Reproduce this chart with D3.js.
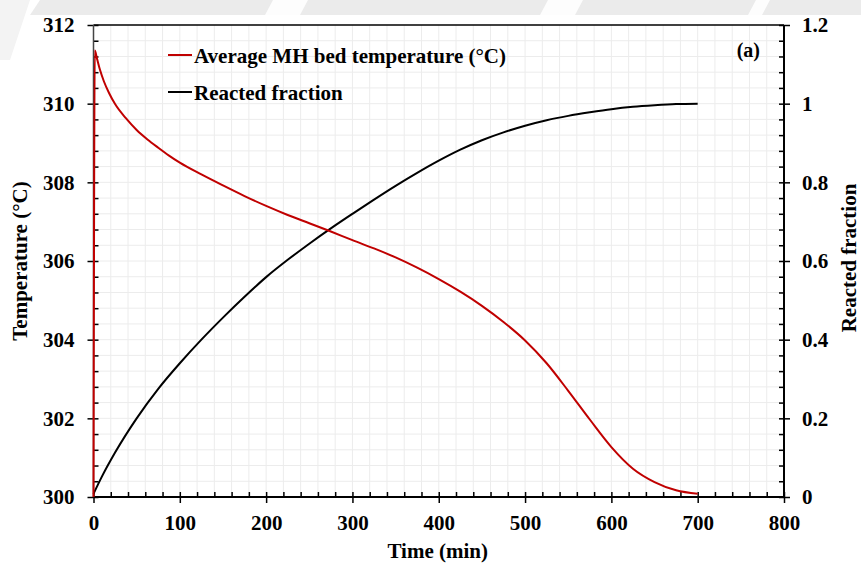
<!DOCTYPE html>
<html>
<head>
<meta charset="utf-8">
<script src="https://cdn.jsdelivr.net/npm/d3@7"></script>
<style>
  html, body { margin: 0; padding: 0; background: #fff; }
  svg { display: block; }
  text { font-family: "Liberation Serif", "Times New Roman", serif; font-weight: bold; fill: #000; }
</style>
</head>
<body>
<svg id="chart" width="861" height="564"></svg>
<script>
// ---- Data ----
const timeTemp = [0, 1.5, 4, 7.5, 12, 18, 25, 37.5, 50, 62.5, 75, 87.5, 100, 125, 150, 175, 200, 225, 250, 275, 300, 325, 350, 375, 400, 425, 450, 475, 500, 525, 550, 575, 600, 625, 650, 675, 700];
const tempValues = [300, 311.35, 311.15, 310.86, 310.57, 310.27, 309.99, 309.63, 309.33, 309.09, 308.88, 308.68, 308.5, 308.2, 307.92, 307.65, 307.4, 307.17, 306.96, 306.75, 306.53, 306.32, 306.09, 305.83, 305.54, 305.22, 304.86, 304.45, 303.98, 303.4, 302.7, 301.97, 301.27, 300.72, 300.38, 300.17, 300.08];
const timeFrac = [0, 10, 25, 50, 75, 100, 125, 150, 175, 200, 225, 250, 275, 300, 325, 350, 375, 400, 425, 450, 475, 500, 525, 550, 575, 600, 625, 650, 675, 700];
const fracValues = [0.008, 0.053, 0.113, 0.2, 0.275, 0.34, 0.4, 0.456, 0.509, 0.559, 0.603, 0.644, 0.683, 0.72, 0.756, 0.791, 0.824, 0.855, 0.883, 0.907, 0.927, 0.944, 0.958, 0.969, 0.978, 0.986, 0.992, 0.996, 0.999, 1.0];
const xTicks = [0, 100, 200, 300, 400, 500, 600, 700, 800];
const yLeftTicks = [300, 302, 304, 306, 308, 310, 312];
const yRightTicks = [0, 0.2, 0.4, 0.6, 0.8, 1, 1.2];
const seriesNames = ["Average MH bed temperature (\u00B0C)", "Reacted fraction"];
const seriesColors = ["#c00000", "#000000"];

// ---- Layout ----
const svg = d3.select("#chart");
const L = 93.5, R = 784, T = 25, B = 497;
const FS = "21px";

// faint background shapes at top
const wm = svg.append("g");
wm.append("polygon").attr("points", "40,0 861,0 861,15 30,15").attr("fill", "#ebebeb");
[[265, 300], [540, 575], [748, 762]].forEach(([a, b]) => {
  wm.append("polygon").attr("points", `${a + 8},0 ${b + 8},0 ${b},15 ${a},15`).attr("fill", "#fdfdfd");
});
wm.append("polygon").attr("points", "0,0 30,0 10,60 0,60").attr("fill", "#f3f3f3");

const x = d3.scaleLinear().domain([0, 800]).range([L, R]);
const yL = d3.scaleLinear().domain([300, 312]).range([B, T]);
const yR = d3.scaleLinear().domain([0, 1.2]).range([B, T]);

// grid
const grid = svg.append("g");
grid.selectAll(".gx").data(d3.range(20, 800, 20)).join("line")
  .attr("x1", d => x(d)).attr("x2", d => x(d)).attr("y1", T).attr("y2", B)
  .attr("stroke", "#ececec").attr("stroke-width", 1);
grid.selectAll(".gy").data(d3.range(1, 30).map(i => 300 + i * 0.4)).join("line")
  .attr("x1", L).attr("x2", R).attr("y1", d => yL(d)).attr("y2", d => yL(d))
  .attr("stroke", "#ececec").attr("stroke-width", 1);

// frame top
svg.append("line").attr("x1", L).attr("x2", R).attr("y1", T).attr("y2", T)
  .attr("stroke", "#000").attr("stroke-width", 1.5);

function styleAxis(g) {
  g.select(".domain").remove();
  g.selectAll("line").attr("stroke", "#000").attr("stroke-width", 1.5);
  g.selectAll("text").style("font-size", FS);
}

// bottom axis
const xMinor = d3.range(0, 801, 20);
svg.append("g").attr("transform", `translate(0,${B})`)
  .call(d3.axisBottom(x).tickValues(xMinor).tickSize(-5).tickFormat(""))
  .call(styleAxis);
svg.append("g").attr("transform", `translate(0,${B})`)
  .call(d3.axisBottom(x).tickValues(xTicks).tickSize(6).tickPadding(12).tickFormat(d3.format("d")))
  .call(styleAxis);

// left axis
const yMinor = d3.range(0, 31).map(i => 300 + i * 0.4);
svg.append("g").attr("transform", `translate(${L},0)`)
  .call(d3.axisLeft(yL).tickValues(yMinor).tickSize(-5).tickFormat(""))
  .call(styleAxis);
svg.append("g").attr("transform", `translate(${L},0)`)
  .call(d3.axisLeft(yL).tickValues(yLeftTicks).tickSize(6).tickPadding(13).tickFormat(d3.format("d")))
  .call(styleAxis);

// right axis
const yRMinor = d3.range(0, 31).map(i => i * 0.04);
svg.append("g").attr("transform", `translate(${R},0)`)
  .call(d3.axisRight(yR).tickValues(yRMinor).tickSize(-5).tickFormat(""))
  .call(styleAxis);
svg.append("g").attr("transform", `translate(${R},0)`)
  .call(d3.axisRight(yR).tickValues(yRightTicks).tickSize(6).tickPadding(12).tickFormat(d3.format("~g")))
  .call(styleAxis);

// axis lines
svg.append("line").attr("x1", L).attr("x2", R).attr("y1", B).attr("y2", B).attr("stroke", "#000").attr("stroke-width", 2);
svg.append("line").attr("x1", L).attr("x2", L).attr("y1", T).attr("y2", B).attr("stroke", "#444").attr("stroke-width", 1.5);
svg.append("line").attr("x1", R).attr("x2", R).attr("y1", T).attr("y2", B).attr("stroke", "#000").attr("stroke-width", 2);

// series
const tempData = timeTemp.map((t, i) => [t, tempValues[i]]);
const fracData = timeFrac.map((t, i) => [t, fracValues[i]]);
svg.append("path").datum(fracData)
  .attr("d", d3.line().x(d => x(d[0])).y(d => yR(d[1])).curve(d3.curveMonotoneX))
  .attr("fill", "none").attr("stroke", seriesColors[1]).attr("stroke-width", 2);
svg.append("path").datum(tempData)
  .attr("d", d3.line().x(d => x(d[0])).y(d => yL(d[1])).curve(d3.curveMonotoneX))
  .attr("fill", "none").attr("stroke", seriesColors[0]).attr("stroke-width", 2);

// legend
const leg = svg.append("g");
[55, 92].forEach((yy, i) => {
  leg.append("line").attr("x1", 168).attr("x2", 192).attr("y1", yy).attr("y2", yy)
    .attr("stroke", seriesColors[i]).attr("stroke-width", 2);
  leg.append("text").attr("x", 194).attr("y", yy + 8).style("font-size", FS).text(seriesNames[i]);
});

// panel label
svg.append("text").attr("x", 760).attr("y", 57).attr("text-anchor", "end").style("font-size", "20px").text("(a)");

// axis titles
svg.append("text").attr("x", (L + R) / 2 - 1).attr("y", 558).attr("text-anchor", "middle")
  .style("font-size", FS).text("Time (min)");
svg.append("text").attr("transform", `translate(27,${(T + B) / 2}) rotate(-90)`).attr("text-anchor", "middle")
  .style("font-size", FS).text("Temperature (\u00B0C)");
svg.append("text").attr("transform", `translate(856,${(T + B) / 2 - 3}) rotate(-90)`).attr("text-anchor", "middle")
  .style("font-size", FS).text("Reacted fraction");
</script>
</body>
</html>
